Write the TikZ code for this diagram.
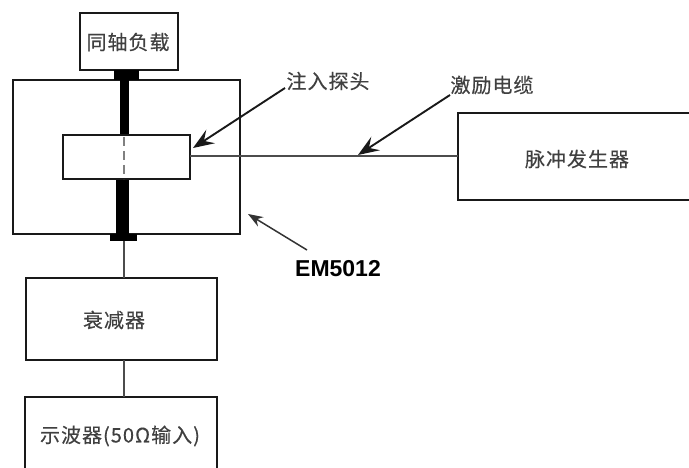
\documentclass[tikz,border=0pt]{standalone}
\usepackage{fontspec}
\usetikzlibrary{arrows.meta}
\newfontfamily\cjk[LetterSpace=5,FakeBold=0.35]{Noto Sans CJK SC}
\setsansfont{Liberation Sans}
\definecolor{inkline}{gray}{0.1}
\definecolor{inktext}{gray}{0.25}
\tikzset{
  box/.style={draw=inkline,line width=2pt,fill=white,inner sep=0pt,outer sep=0pt},
  openbox/.style={inner sep=0pt,outer sep=0pt},
  openline/.style={draw=inkline,line width=2pt},
  wire/.style={draw=black!70,line width=2pt},
  solidbar/.style={fill=black,draw=none,inner sep=0pt,outer sep=0pt},
  callout/.style={draw=black!90,line width=1.9pt,-{Stealth[length=21pt,width=16pt,inset=8pt]}},
  calloutsmall/.style={draw=black!80,line width=1.5pt,-{Stealth[length=15pt,width=11pt,inset=5pt]}},
  label/.style={font=\cjk\fontsize{20}{22}\selectfont,text=inktext,inner sep=0pt},
}
\begin{document}
\begin{tikzpicture}[x=1pt,y=-1pt]
\useasboundingbox (0,0) rectangle (689,468);
\node[box,minimum width=227pt,minimum height=154pt] (em) at (126.5,157) {};
\node[box,minimum width=98pt,minimum height=57pt] (load) at (129,41.5) {};
\node[solidbar,minimum width=9pt,minimum height=65pt] (rodup) at (124,102.5) {};
\node[solidbar,minimum width=25pt,minimum height=10pt] (capup) at (126,75) {};
\node[solidbar,minimum width=13pt,minimum height=55pt] (roddown) at (122.5,206.5) {};
\node[solidbar,minimum width=27pt,minimum height=7pt] (capdown) at (123.5,237.5) {};
\node[box,minimum width=127pt,minimum height=44pt] (probe) at (126.5,157) {};
\node[box,minimum width=191pt,minimum height=82pt] (att) at (121.5,319) {};
\node[openbox,minimum width=192pt,minimum height=71pt] (scope) at (121,432.5) {};
\node[openbox,minimum width=231pt,minimum height=87pt] (pulse) at (573.5,156.5) {};
\draw[openline] (scope.south west) -- (scope.north west) -- (scope.north east) -- (scope.south east);
\draw[openline] (pulse.north east) -- (pulse.north west) -- (pulse.south west) -- (pulse.south east);
\draw[wire] (capdown.south) -- (capdown.south |- att.north);
\draw[wire] (capdown.south |- att.south) -- (capdown.south |- scope.north);
\draw[wire] (pulse.west -| probe.east) -- (pulse.west);
\draw[draw=black!50,line width=1.2pt,dash pattern=on 9pt off 5pt] (probe.north -| rodup.south) ++(0,2) -- (probe.south -| rodup.south);
\node[label] (loadt) at (128,42) {同轴负载};
\node[label] (attt) at (114,320) {衰减器};
\node[label] (scopet) at (120,436) {示波器(50Ω输入)};
\node[label] (pulset) at (577,159) {脉冲发生器};
\node[label] (probet) at (328,81) {注入探头};
\node[label] (cablet) at (492,85) {激励电缆};
\node[font=\sffamily\bfseries\fontsize{23}{25}\selectfont,text=black,inner sep=0pt] (emt) at (338,269) {EM5012};
\coordinate (probefrom) at (285,88);
\coordinate (probetip) at (193,148);
\coordinate (cablefrom) at (450,95);
\coordinate (cabletip) at (358,155);
\coordinate (emfrom) at (307,250);
\coordinate (emtip) at (248,214);
\draw[callout] (probefrom) -- (probetip);
\draw[callout] (cablefrom) -- (cabletip);
\draw[calloutsmall] (emfrom) -- (emtip);
\end{tikzpicture}
\end{document}
